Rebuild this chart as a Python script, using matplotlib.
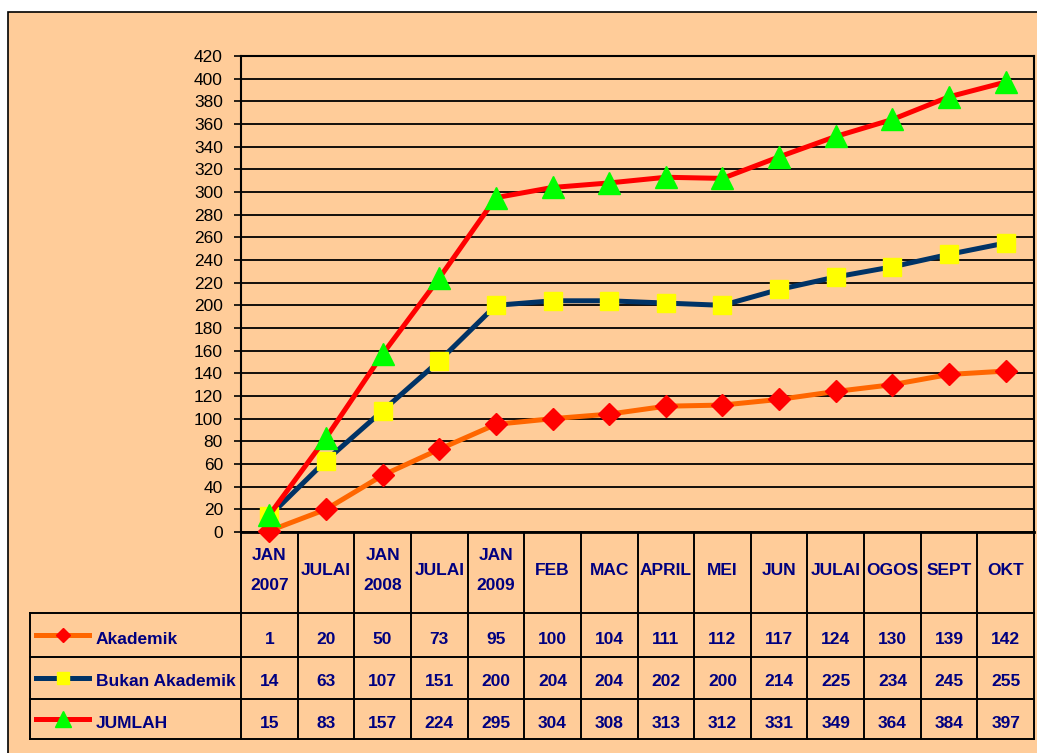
import matplotlib
matplotlib.use("Agg")
import matplotlib.pyplot as plt
from matplotlib.lines import Line2D
from matplotlib.patches import Rectangle

plt.rcParams['font.family'] = ['Liberation Sans', 'DejaVu Sans']

months = ["JAN\n2007", "JULAI", "JAN\n2008", "JULAI", "JAN\n2009", "FEB", "MAC",
          "APRIL", "MEI", "JUN", "JULAI", "OGOS", "SEPT", "OKT"]
akademik = [1, 20, 50, 73, 95, 100, 104, 111, 112, 117, 124, 130, 139, 142]
bukan_akademik = [14, 63, 107, 151, 200, 204, 204, 202, 200, 214, 225, 234, 245, 255]
jumlah = [15, 83, 157, 224, 295, 304, 308, 313, 312, 331, 349, 364, 384, 397]
series_names = ["Akademik", "Bukan Akademik", "JUMLAH"]

W, H = 1037, 753
bg = "#FFCC99"
navy = "#000080"

fig = plt.figure(figsize=(W / 100, H / 100), dpi=100, facecolor="white")

# overlay in pixel coords for frame + data table
ov = fig.add_axes([0, 0, 1, 1], zorder=0)
ov.set_xlim(0, W)
ov.set_ylim(H, 0)
ov.axis("off")
ov.add_patch(Rectangle((8, 12), W + 10, H, facecolor=bg, edgecolor="black", lw=1.2))

# plot area in pixels
px0, px1, py0, py1 = 241, 1034, 56, 532
ax = fig.add_axes([px0 / W, (H - py1) / H, (px1 - px0) / W, (py1 - py0) / H], zorder=1)
ax.set_facecolor("none")

x = list(range(len(months)))
ax.plot(x, akademik, color="#FF6600", lw=3.6, marker="D", ms=11,
        mfc="#FF0000", mec="#FF0000", zorder=3, clip_on=False)
ax.plot(x, bukan_akademik, color="#003366", lw=3.6, marker="s", ms=13,
        mfc="#FFFF00", mec="#FFFF00", zorder=4, clip_on=False)
ax.plot(x, jumlah, color="#FF0000", lw=3.6, marker="^", ms=16,
        mfc="#00FF00", mec="#00FF00", zorder=5, clip_on=False)

ax.set_xlim(-0.5, len(months) - 0.5)
ax.set_ylim(0, 420)
ax.set_yticks(range(0, 421, 20))
ax.yaxis.grid(True, color="black", lw=1.3)
ax.set_axisbelow(True)
ax.set_xticks([])
ax.tick_params(axis="y", length=5, width=1.2, pad=8, labelsize=12.5, colors="black")
for s in ["left", "right", "top"]:
    ax.spines[s].set_linewidth(1.5)
ax.spines["bottom"].set_visible(False)

# data table
ncol = len(months)
cw = (px1 - px0) / ncol
tx0 = 30
header_bot = 613
row_lines = [613, 657, 699, 739]
lw = 1.4
ov.plot([px0, px1], [py1, py1], color="black", lw=2)
for yl in row_lines:
    ov.plot([tx0, px1], [yl, yl], color="black", lw=lw)
for i in range(ncol + 1):
    xl = px0 + i * cw
    ov.plot([xl, xl], [py1, row_lines[-1]], color="black", lw=lw)
ov.plot([tx0, tx0], [row_lines[0], row_lines[-1]], color="black", lw=lw)

for i, m in enumerate(months):
    ov.text(px0 + (i + 0.5) * cw, (py1 + header_bot) / 2 - 2, m, ha="center", va="center",
            fontsize=12.5, fontweight="bold", color=navy, linespacing=2.3)

rows = [akademik, bukan_akademik, jumlah]
styles = [("#FF6600", "D", 7, "#FF0000"), ("#003366", "s", 9, "#FFFF00"),
          ("#FF0000", "^", 11, "#00FF00")]
for r, (vals, name, st) in enumerate(zip(rows, series_names, styles)):
    yc = (row_lines[r] + row_lines[r + 1]) / 2 + 4
    for i, v in enumerate(vals):
        ov.text(px0 + (i + 0.5) * cw, yc, str(v), ha="center", va="center",
                fontsize=12.5, fontweight="bold", color=navy)
    ov.add_line(Line2D([36, 89], [yc - 4, yc - 4], color=st[0], lw=3.6))
    ov.plot([62.5], [yc - 4], marker=st[1], ms=st[2], mfc=st[3], mec=st[3], ls="none")
    ov.text(96, yc, name, ha="left", va="center", fontsize=12.5,
            fontweight="bold", color=navy)

fig.savefig("out.png", dpi=100, facecolor="white")
